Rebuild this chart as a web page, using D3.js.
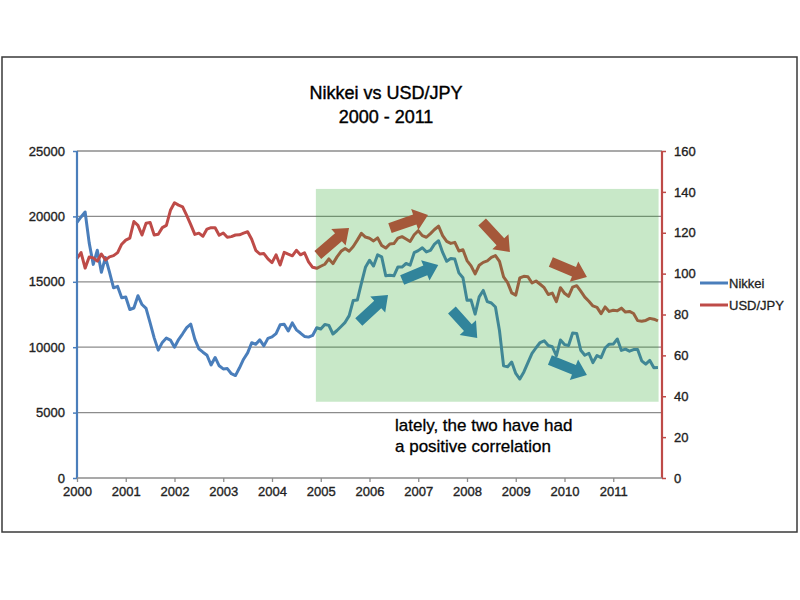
<!DOCTYPE html>
<html>
<head>
<meta charset="utf-8">
<script src="https://cdn.jsdelivr.net/npm/d3@7/dist/d3.min.js"></script>
<style>
  html, body { margin: 0; padding: 0; background: #fff; }
  svg { display: block; font-family: "Liberation Sans", Arial, sans-serif; }
</style>
</head>
<body>
<svg id="chart" width="800" height="600"></svg>
<script>
// ---- Data (monthly, Jan 2000 - Dec 2011) ----
const startYear = 2000;
const nikkei = [
  19540, 19960, 20337, 17974, 16332, 17411, 15727, 16861, 15747, 14540, 14649, 13786,
  13843, 12884, 12999, 13934, 13262, 12969, 11861, 10713, 9775, 10366, 10697, 10543,
  9998, 10588, 11025, 11493, 11764, 10622, 9877, 9619, 9383, 8640, 9216, 8579,
  8340, 8363, 7973, 7831, 8425, 9083, 9563, 10344, 10219, 10560, 10101, 10677,
  10784, 11042, 11715, 11762, 11236, 11859, 11326, 11082, 10824, 10771, 10899, 11489,
  11388, 11741, 11669, 11009, 11277, 11584, 11900, 12414, 13574, 13607, 14872, 16111,
  16650, 16206, 17060, 16906, 15467, 15505, 15457, 16141, 16128, 16399, 16274, 17226,
  17383, 17604, 17288, 17400, 17876, 18138, 17249, 16569, 16786, 16738, 15681, 15308,
  13592, 13604, 12526, 13850, 14339, 13482, 13377, 13073, 11260, 8577, 8512, 8860,
  7994, 7568, 8110, 8828, 9523, 9958, 10357, 10493, 10133, 10035, 9346, 10546,
  10198, 10126, 11090, 11057, 9769, 9383, 9537, 8824, 9369, 9202, 9937, 10229,
  10238, 10624, 9755, 9850, 9694, 9816, 9833, 8955, 8700, 8988, 8435, 8455
];
const usdjpy = [
  107.4, 110.3, 102.7, 108.1, 107.7, 106.1, 109.6, 106.7, 108.2, 108.8, 110.3, 114.4,
  116.4, 117.4, 125.5, 123.6, 118.9, 124.7, 125.0, 118.9, 119.3, 122.5, 123.6, 131.0,
  134.7, 133.5, 132.7, 128.5, 124.0, 119.2, 119.8, 118.3, 121.8, 122.5, 122.4, 118.8,
  119.9, 117.8, 118.1, 118.9, 119.0, 119.8, 120.5, 116.8, 111.4, 109.6, 109.8, 107.2,
  105.4, 109.2, 104.2, 110.4, 109.5, 108.7, 111.4, 109.2, 110.2, 105.8, 103.1, 102.6,
  103.6, 104.6, 107.2, 104.9, 108.2, 110.9, 112.3, 111.0, 113.3, 116.4, 119.7, 117.9,
  117.3, 116.0, 117.5, 113.8, 112.5, 114.5, 114.7, 117.4, 118.1, 116.9, 115.7, 119.0,
  121.0, 118.6, 117.8, 119.6, 121.6, 123.2, 118.6, 115.8, 114.8, 115.3, 111.1, 111.7,
  106.4, 103.8, 99.9, 104.1, 105.5, 106.2, 107.9, 108.8, 106.0, 98.4, 95.6, 90.6,
  89.5, 97.9, 98.7, 98.5, 95.4, 96.4, 94.8, 93.1, 89.8, 90.5, 86.3, 93.1,
  90.4, 88.9, 93.4, 94.1, 91.4, 88.5, 86.5, 84.2, 83.5, 80.4, 83.7, 81.5,
  82.1, 81.8, 83.1, 81.2, 81.5, 80.5, 77.0, 76.7, 77.1, 78.1, 77.7, 76.9
];
const yearTicks = [2000, 2001, 2002, 2003, 2004, 2005, 2006, 2007, 2008, 2009, 2010, 2011];
const leftTicks = [0, 5000, 10000, 15000, 20000, 25000];
const rightTicks = [0, 20, 40, 60, 80, 100, 120, 140, 160];
const seriesNames = ["Nikkei", "USD/JPY"];
const titleLines = ["Nikkei vs USD/JPY", "2000 - 2011"];
const noteLines = ["lately, the two have had", "a positive correlation"];
// highlighted period box: [x0, x1] in years, [y0, y1] in Nikkei units
const boxYears = [2004.9, 2011.93];
const boxNikkei = [5830, 22100];
// trend arrows: [yearFrom, valueFrom, yearTo, valueTo]
const yenArrows = [
  [2004.94, 109.1, 2005.58, 122.3],
  [2006.42, 122.3, 2007.20, 128.7],
  [2008.31, 125.3, 2008.88, 110.6],
  [2009.72, 105.7, 2010.46, 98.3]
];
const nikkeiArrows = [
  [2005.78, 11926, 2006.38, 13990],
  [2006.67, 15137, 2007.41, 16284],
  [2007.69, 12844, 2008.21, 10703],
  [2009.70, 9021, 2010.46, 7874]
];

// ---- Layout ----
const svg = d3.select("#chart");
const L = 77, R = 662, T = 151, B = 478;
const x = d3.scaleLinear().domain([2000, 2012]).range([L, R]);
const yL = d3.scaleLinear().domain([0, 25000]).range([B, T]);
const yR = d3.scaleLinear().domain([0, 160]).range([B, T]);
const colN = "#4a7ebb", colU = "#be4b48";
const textCol = "#222";

// outer border
svg.append("rect").attr("x", 2).attr("y", 57).attr("width", 795).attr("height", 475)
  .attr("fill", "none").attr("stroke", "#3a3a3a").attr("stroke-width", 1.5);

// title
svg.append("g").selectAll("text").data(titleLines).join("text")
  .attr("x", 386).attr("y", (d, i) => 99 + i * 24)
  .attr("text-anchor", "middle").attr("font-size", 18).attr("fill", "#000")
  .attr("stroke", "#000").attr("stroke-width", 0.4)
  .text(d => d);

// gridlines
svg.append("g").selectAll("line").data(leftTicks.filter(d => d > 0)).join("line")
  .attr("x1", L).attr("x2", R).attr("y1", d => yL(d)).attr("y2", d => yL(d))
  .attr("stroke", "#8c8c8c").attr("stroke-width", 1.3);

// series
const months = nikkei.map((_, i) => startYear + i / 12);
const lineN = d3.line().x((d, i) => x(months[i])).y(d => yL(d));
const lineU = d3.line().x((d, i) => x(months[i])).y(d => yR(d));
svg.append("path").datum(nikkei).attr("d", lineN).attr("fill", "none")
  .attr("stroke", colN).attr("stroke-width", 3).attr("stroke-linejoin", "round");
svg.append("path").datum(usdjpy).attr("d", lineU).attr("fill", "none")
  .attr("stroke", colU).attr("stroke-width", 3).attr("stroke-linejoin", "round");

// highlight overlay
svg.append("rect")
  .attr("x", x(boxYears[0])).attr("width", x(boxYears[1]) - x(boxYears[0]))
  .attr("y", yL(boxNikkei[1])).attr("height", yL(boxNikkei[0]) - yL(boxNikkei[1]))
  .attr("fill", "rgb(36,164,36)").attr("fill-opacity", 0.25);

// arrows
function arrowPath(x0, y0, x1, y1) {
  const dx = x1 - x0, dy = y1 - y0, len = Math.hypot(dx, dy);
  const ux = dx / len, uy = dy / len, nx = -uy, ny = ux;
  const sw = 5.2, hw = 11, hl = 14;
  const bx = x1 - ux * hl, by = y1 - uy * hl;
  const pts = [
    [x0 + nx * sw, y0 + ny * sw], [bx + nx * sw, by + ny * sw], [bx + nx * hw, by + ny * hw],
    [x1, y1],
    [bx - nx * hw, by - ny * hw], [bx - nx * sw, by - ny * sw], [x0 - nx * sw, y0 - ny * sw]
  ];
  return "M" + pts.map(p => p.join(",")).join("L") + "Z";
}
svg.append("g").selectAll("path").data(yenArrows).join("path")
  .attr("d", d => arrowPath(x(d[0]), yR(d[1]), x(d[2]), yR(d[3])))
  .attr("fill", "#a5583a");
svg.append("g").selectAll("path").data(nikkeiArrows).join("path")
  .attr("d", d => arrowPath(x(d[0]), yL(d[1]), x(d[2]), yL(d[3])))
  .attr("fill", "#31849b");

// note text
svg.append("g").selectAll("text").data(noteLines).join("text")
  .attr("x", 395).attr("y", (d, i) => 431 + i * 21)
  .attr("font-size", 17).attr("fill", "#000")
  .attr("stroke", "#000").attr("stroke-width", 0.3).text(d => d);

// axes
function styleTicks(g) {
  g.selectAll(".tick text").attr("fill", textCol).attr("font-size", 13)
    .attr("stroke", textCol).attr("stroke-width", 0.35)
    .attr("font-family", "Liberation Sans, Arial, sans-serif");
}
const axL = svg.append("g").attr("transform", `translate(${L},0)`)
  .call(d3.axisLeft(yL).tickValues(leftTicks).tickSize(4).tickPadding(8).tickFormat(d3.format("d")));
axL.select(".domain").attr("stroke", colN).attr("stroke-width", 2.2).attr("d", `M0,${T}V${B}`);
axL.selectAll(".tick line").attr("stroke", colN).attr("stroke-width", 1.5);
styleTicks(axL);

const axR = svg.append("g").attr("transform", `translate(${R},0)`)
  .call(d3.axisRight(yR).tickValues(rightTicks).tickSize(4).tickPadding(8));
axR.select(".domain").attr("stroke", colU).attr("stroke-width", 2.2).attr("d", `M0,${T}V${B}`);
axR.selectAll(".tick line").attr("stroke", colU).attr("stroke-width", 1.5);
styleTicks(axR);

const axB = svg.append("g").attr("transform", `translate(0,${B})`)
  .call(d3.axisBottom(x).tickValues(yearTicks).tickSize(4).tickPadding(5).tickFormat(d3.format("d")));
axB.select(".domain").attr("stroke", "#8c8c8c").attr("stroke-width", 1.5).attr("d", `M${L},0H${R}`);
axB.selectAll(".tick line").attr("stroke", "#8c8c8c").attr("stroke-width", 1.3);
styleTicks(axB);

// legend
const leg = svg.append("g").selectAll("g").data(seriesNames).join("g")
  .attr("transform", (d, i) => `translate(700,${283 + i * 22})`);
leg.append("line").attr("x1", 0).attr("x2", 28).attr("y1", 0).attr("y2", 0)
  .attr("stroke", (d, i) => i === 0 ? colN : colU).attr("stroke-width", 3);
leg.append("text").attr("x", 29).attr("y", 5).attr("font-size", 13).attr("fill", textCol)
  .attr("stroke", textCol).attr("stroke-width", 0.3)
  .text(d => d);
</script>
</body>
</html>
